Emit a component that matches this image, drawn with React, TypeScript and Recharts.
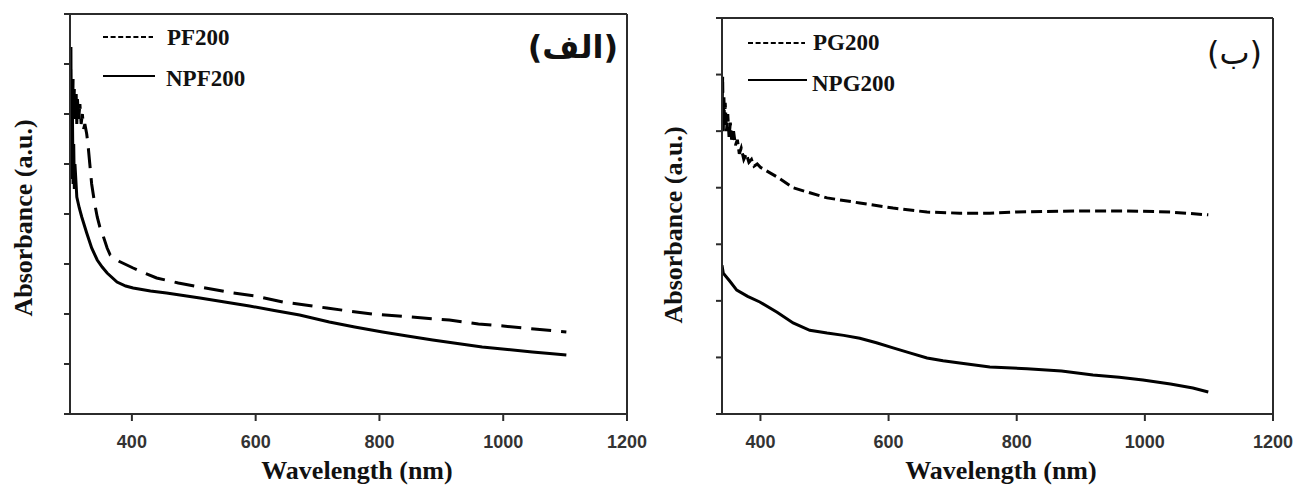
import React from 'react';
import { LineChart, Line, XAxis, YAxis, ReferenceLine, Legend } from 'recharts';

// ---------- Panel (الف) data ----------
const pf200Wavelength = [301, 302, 303, 304, 305, 306, 307, 308, 310, 311, 312, 314, 316, 318, 320, 322, 324, 327, 329, 332, 335, 340, 344, 348, 352, 360, 365, 380, 402, 420, 440, 475, 510, 563, 600, 644, 680, 715, 750, 789, 850, 913, 960, 1000, 1050, 1102];
const pf200Absorbance = [6.9, 5.9, 6.6, 5.8, 6.7, 6.0, 6.5, 5.9, 6.4, 5.8, 6.3, 5.9, 6.2, 5.8, 6.0, 5.7, 5.8, 5.6, 5.4, 5.0, 4.6, 4.2, 3.94, 3.75, 3.62, 3.32, 3.18, 3.05, 2.92, 2.82, 2.72, 2.62, 2.54, 2.42, 2.36, 2.24, 2.18, 2.12, 2.06, 2.0, 1.94, 1.88, 1.8, 1.76, 1.7, 1.64];

const npf200Wavelength = [301, 301.5, 302, 302.5, 303, 304, 305, 306, 307, 308, 311, 315, 319, 327, 335, 344, 352, 360, 376, 390, 402, 430, 456, 510, 550, 590, 630, 671, 719, 760, 805, 845, 886, 926, 966, 1007, 1047, 1075, 1102];
const npf200Absorbance = [5.5, 7.34, 5.0, 6.6, 4.7, 5.9, 4.6, 5.4, 4.5, 5.0, 4.34, 4.12, 3.94, 3.62, 3.32, 3.08, 2.94, 2.82, 2.64, 2.56, 2.52, 2.46, 2.42, 2.32, 2.24, 2.16, 2.07, 1.98, 1.84, 1.74, 1.64, 1.56, 1.48, 1.41, 1.34, 1.29, 1.24, 1.21, 1.18];

// ---------- Panel (ب) data ----------
const pg200Wavelength = [340, 341, 342, 343, 344, 345, 347, 349, 351, 353, 355, 358, 361, 364, 367, 370, 374, 378, 382, 386, 390, 395, 400, 426, 451, 477, 504, 555, 607, 660, 711, 758, 800, 841, 900, 972, 1040, 1099];
const pg200Absorbance = [5.2, 5.96, 5.0, 5.6, 5.1, 5.5, 5.0, 5.3, 4.9, 5.15, 4.85, 5.0, 4.75, 4.85, 4.6, 4.7, 4.5, 4.6, 4.45, 4.5, 4.38, 4.42, 4.36, 4.19, 4.0, 3.91, 3.82, 3.73, 3.64, 3.57, 3.55, 3.55, 3.57, 3.58, 3.59, 3.59, 3.57, 3.52];

const npg200Wavelength = [340, 342, 352, 363, 380, 399, 426, 451, 477, 504, 530, 555, 581, 607, 633, 660, 685, 711, 758, 816, 870, 919, 960, 997, 1040, 1075, 1099];
const npg200Absorbance = [2.63, 2.49, 2.35, 2.19, 2.08, 1.98, 1.8, 1.61, 1.48, 1.43, 1.39, 1.34, 1.26, 1.17, 1.08, 0.99, 0.94, 0.9, 0.83, 0.8, 0.76, 0.69, 0.65, 0.6, 0.53, 0.46, 0.39];

// ---------- Axes ----------
const xTicks = [400, 600, 800, 1000, 1200];
const leftYTicks = [0, 1, 2, 3, 4, 5, 6, 7, 8];
const rightYTicks = [0, 1, 2, 3, 4, 5, 6, 7];
const leftXDomain = [300, 1200];
const rightXDomain = [340, 1200];

const leftNames = ['PF200', 'NPF200'];
const rightNames = ['PG200', 'NPG200'];
const xTitle = 'Wavelength (nm)';
const yTitle = 'Absorbance (a.u.)';
const leftPanelLabel = '(الف)';
const rightPanelLabel = '(ب)';

const zip = (xs: number[], ys: number[]) => xs.map((x, i) => ({ wl: x, a: ys[i] }));

const AXIS = '#2b2b2b';
const SERIF = '"Liberation Serif", "Times New Roman", serif';
const SANS = '"Liberation Sans", Arial, sans-serif';

const EmptyTick = () => <g />;

type PanelProps = {
  left: number;
  top: number;
  width: number;
  margin: { top: number; right: number; bottom: number; left: number };
  xDomain: number[];
  yTicks: number[];
  dashedData: { wl: number; a: number }[];
  solidData: { wl: number; a: number }[];
  names: string[];
  mainDash: string;
  legendPos: { left: number; top: number };
  legendGeom: { x1: number; x2: number; y1: number; y2: number; tx: number; b1: number; b2: number };
};

function Panel(p: PanelProps) {
  const yMax = p.yTicks[p.yTicks.length - 1];
  const g = p.legendGeom;
  const legendContent = () => (
    <svg width={220} height={90} style={{ overflow: 'visible', display: 'block' }}>
      <line x1={g.x1} x2={g.x2} y1={g.y1} y2={g.y1} stroke="#000" strokeWidth={2.2} strokeDasharray="5 2.6" />
      <text x={g.tx} y={g.b1} fontFamily={SERIF} fontWeight="bold" fontSize={23} fill="#111">{p.names[0]}</text>
      <line x1={g.x1} x2={g.x2 + 2} y1={g.y2} y2={g.y2} stroke="#000" strokeWidth={2.2} />
      <text x={g.tx - 1} y={g.b2} fontFamily={SERIF} fontWeight="bold" fontSize={23} fill="#111">{p.names[1]}</text>
    </svg>
  );
  return (
    <div style={{ position: 'absolute', left: p.left, top: p.top }}>
      <LineChart width={p.width} height={486} margin={p.margin}>
        <XAxis
          type="number"
          dataKey="wl"
          domain={p.xDomain}
          ticks={xTicks}
          allowDataOverflow
          height={30}
          axisLine={{ stroke: AXIS, strokeWidth: 2 }}
          tickLine={{ stroke: AXIS, strokeWidth: 2 }}
          tickSize={7}
          tickMargin={14}
          tick={{ fontFamily: SANS, fontWeight: 'bold', fontSize: 18, fill: '#333' }}
          interval={0}
        />
        <YAxis
          type="number"
          domain={[0, yMax]}
          ticks={p.yTicks}
          width={60}
          allowDataOverflow
          axisLine={{ stroke: AXIS, strokeWidth: 2 }}
          tickLine={{ stroke: AXIS, strokeWidth: 2 }}
          tickSize={6}
          tick={<EmptyTick />}
          interval={0}
        />
        <ReferenceLine y={yMax} stroke={AXIS} strokeWidth={2} />
        <ReferenceLine x={1200} stroke={AXIS} strokeWidth={2} />
        <Legend
          layout="vertical"
          align="center"
          verticalAlign="middle"
          wrapperStyle={{ position: 'absolute', left: p.legendPos.left, top: p.legendPos.top, width: 220, height: 90 }}
          content={legendContent}
        />
        <Line
          data={p.dashedData}
          dataKey="a"
          name={p.names[0]}
          type="linear"
          stroke="#000"
          strokeWidth={3}
          strokeDasharray={p.mainDash}
          dot={false}
          activeDot={false}
          isAnimationActive={false}
        />
        <Line
          data={p.solidData}
          dataKey="a"
          name={p.names[1]}
          type="linear"
          stroke="#000"
          strokeWidth={3}
          dot={false}
          activeDot={false}
          isAnimationActive={false}
        />
      </LineChart>
    </div>
  );
}

export default function App() {
  return (
    <div style={{ position: 'absolute', left: 0, top: 0, width: 1293, height: 486, background: '#fff', overflow: 'hidden' }}>
      <Panel
        left={0}
        top={0}
        width={660}
        margin={{ top: 14, right: 33, bottom: 42, left: 10 }}
        xDomain={leftXDomain}
        yTicks={leftYTicks}
        dashedData={zip(pf200Wavelength, pf200Absorbance)}
        solidData={zip(npf200Wavelength, npf200Absorbance)}
        names={leftNames}
        mainDash="20 10"
        legendPos={{ left: 95, top: 20 }}
        legendGeom={{ x1: 8, x2: 58, y1: 17, y2: 56, tx: 72, b1: 25, b2: 66 }}
      />
      <Panel
        left={650}
        top={0}
        width={643}
        margin={{ top: 18, right: 20, bottom: 42, left: 12 }}
        xDomain={rightXDomain}
        yTicks={rightYTicks}
        dashedData={zip(pg200Wavelength, pg200Absorbance)}
        solidData={zip(npg200Wavelength, npg200Absorbance)}
        names={rightNames}
        mainDash="11 5"
        legendPos={{ left: 95, top: 20 }}
        legendGeom={{ x1: 3, x2: 60, y1: 23, y2: 60, tx: 68, b1: 30, b2: 71 }}
      />
      <svg width={1293} height={486} style={{ position: 'absolute', left: 0, top: 0, pointerEvents: 'none' }}>
        <text x={357} y={479} textAnchor="middle" fontFamily={SERIF} fontWeight="bold" fontSize={26} fill="#111">{xTitle}</text>
        <text x={1001} y={479} textAnchor="middle" fontFamily={SERIF} fontWeight="bold" fontSize={26} fill="#111">{xTitle}</text>
        <text transform="translate(32,218) rotate(-90)" textAnchor="middle" fontFamily={SERIF} fontWeight="bold" fontSize={26} fill="#111">{yTitle}</text>
        <text transform="translate(682,225) rotate(-90)" textAnchor="middle" fontFamily={SERIF} fontWeight="bold" fontSize={26} fill="#111">{yTitle}</text>
        <text x={618} y={58} textAnchor="end" fontFamily='"DejaVu Sans", sans-serif' fontWeight="bold" fontSize={32} fill="#111">{leftPanelLabel}</text>
        <text x={1262} y={64} textAnchor="end" fontFamily='"DejaVu Sans", sans-serif' fontSize={32} fill="#111">{rightPanelLabel}</text>
      </svg>
    </div>
  );
}
